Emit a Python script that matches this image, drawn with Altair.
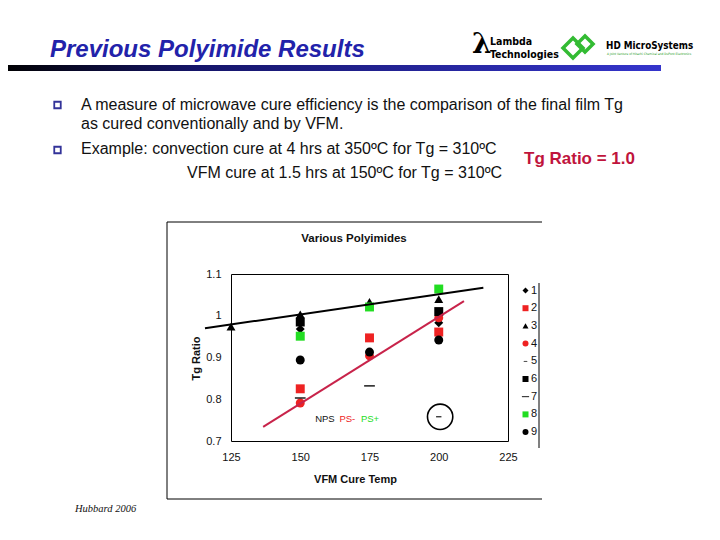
import altair as alt
import pandas as pd

# ---------------- data ----------------
SERIES = ["1", "2", "3", "4", "5", "6", "7", "8", "9"]
S1_T, S1_V = [150, 200], [0.968, 0.983]
S2_T, S2_V = [150, 175, 200], [0.825, 0.947, 0.961]
S3_T, S3_V = [125, 150, 175, 200], [0.974, 1.003, 1.033, 1.040]
S4_T, S4_V = [150, 175, 200], [0.791, 0.904, 0.995]
S5_T, S5_V = [200], [0.758]
S6_T, S6_V = [150, 200], [0.985, 1.010]
S7_T, S7_V = [150, 175], [0.803, 0.832]
S8_T, S8_V = [150, 175, 200], [0.951, 1.021, 1.064]
S9_T, S9_V = [150, 175, 200], [0.894, 0.913, 0.942]
ALL = [(S1_T, S1_V), (S2_T, S2_V), (S3_T, S3_V), (S4_T, S4_V), (S5_T, S5_V),
       (S6_T, S6_V), (S7_T, S7_V), (S8_T, S8_V), (S9_T, S9_V)]

BLACK_LINE_T, BLACK_LINE_V = [115.6, 216.1], [0.970, 1.067]
RED_LINE_T, RED_LINE_V = [136.6, 209.1], [0.734, 1.035]

CIRCLE_T, CIRCLE_V = [200.5], [0.758]
NOTE_TEXT = ["NPS", "PS-", "PS+"]
NOTE_T = [158.9, 167.0, 175.2]
NOTE_V = [0.753, 0.753, 0.753]
NOTE_COLOR = ["#111111", "#ee2222", "#22dd22"]

X_TICKS = [125, 150, 175, 200, 225]
Y_TICKS = [0.7, 0.8, 0.9, 1.0, 1.1]

TITLE = "Previous Polyimide Results"
BULLET_1 = "A measure of microwave cure efficiency is the comparison of the final film Tg"
BULLET_1B = "as cured conventionally and by VFM."
BULLET_2 = "Example: convection cure at 4 hrs at 350ºC for Tg = 310ºC"
BULLET_2B = "VFM cure at 1.5 hrs at 150ºC for Tg = 310ºC"
RATIO_TEXT = "Tg Ratio = 1.0"
CHART_TITLE = "Various Polyimides"
X_TITLE = "VFM Cure Temp"
Y_TITLE = "Tg Ratio"
CREDIT = "Hubbard 2006"
LOGO_1A, LOGO_1B = "Lambda", "Technologies"
LOGO_2 = "HD MicroSystems"
LOGO_2_SUB = "A Joint Venture of Hitachi Chemical and DuPont Electronics"

SHAPES = ["diamond", "square", "triangle-up", "circle",
          "M-0.6,-0.12H0.6V0.12H-0.6Z", "square",
          "M-1.2,-0.15H1.2V0.15H-1.2Z", "square", "circle"]
COLORS = ["#000000", "#ee2222", "#000000", "#ee2222", "#000000",
          "#000000", "#000000", "#22dd22", "#000000"]

SANS = "Liberation Sans, Arial, sans-serif"
NARROW = "Liberation Sans Narrow, DejaVu Sans Condensed, Arial Narrow, sans-serif"

rows = []
for s, (ts, vs) in zip(SERIES, ALL):
    for t, v in zip(ts, vs):
        rows.append({"series": s, "temp": t, "val": v})
pts = pd.DataFrame(rows)

xs = alt.Scale(domain=[125, 225], nice=False, zero=False)
ys = alt.Scale(domain=[0.7, 1.1], nice=False, zero=False)

legend = alt.Legend(title=None, orient="none", legendX=289, legendY=11,
                    symbolSize=36, labelFontSize=11, labelFont=SANS,
                    labelColor="#111111", rowPadding=5.7, labelOffset=0,
                    padding=0, symbolStrokeWidth=0)

points = alt.Chart(pts).mark_point(filled=True, size=80, opacity=1).encode(
    x=alt.X("temp:Q", scale=xs,
            axis=alt.Axis(values=X_TICKS, title=X_TITLE, ticks=False, domain=False,
                          grid=False, labelFlush=False, labelFontSize=11,
                          labelFont=SANS, labelColor="#111111", labelPadding=10,
                          titleFont=SANS, titleFontSize=11, titleFontWeight="bold",
                          titleColor="#111111", titleX=124, titleY=32,
                          titleBaseline="top", titleAlign="center")),
    y=alt.Y("val:Q", scale=ys,
            axis=alt.Axis(values=Y_TICKS, format="~g", title=Y_TITLE, ticks=False,
                          domain=False, grid=False, labelFlush=False,
                          labelFontSize=11, labelFont=SANS, labelColor="#111111",
                          labelPadding=10, titleFont=SANS, titleFontSize=11,
                          titleFontWeight="bold", titleColor="#111111",
                          titleX=-35, titleY=84, titleAngle=270,
                          titleBaseline="middle", titleAlign="center")),
    shape=alt.Shape("series:N", scale=alt.Scale(domain=SERIES, range=SHAPES), legend=legend),
    color=alt.Color("series:N", scale=alt.Scale(domain=SERIES, range=COLORS), legend=legend),
    order=alt.Order("series:N"),
)

black_line = alt.Chart(pd.DataFrame({"temp": BLACK_LINE_T, "val": BLACK_LINE_V})).mark_line(
    color="#000000", strokeWidth=2).encode(x=alt.X("temp:Q", scale=xs), y=alt.Y("val:Q", scale=ys))
red_line = alt.Chart(pd.DataFrame({"temp": RED_LINE_T, "val": RED_LINE_V})).mark_line(
    color="#c8234a", strokeWidth=2).encode(x=alt.X("temp:Q", scale=xs), y=alt.Y("val:Q", scale=ys))

circle = alt.Chart(pd.DataFrame({"temp": CIRCLE_T, "val": CIRCLE_V})).mark_point(
    shape="circle", filled=False, size=640, color="#000000", strokeWidth=1.6, opacity=1).encode(
    x=alt.X("temp:Q", scale=xs), y=alt.Y("val:Q", scale=ys))

notes = alt.Chart(pd.DataFrame({"t": NOTE_TEXT, "temp": NOTE_T, "val": NOTE_V, "c": NOTE_COLOR})).mark_text(
    font=SANS, fontSize=9.5, baseline="middle", align="center").encode(
    x=alt.X("temp:Q", scale=xs), y=alt.Y("val:Q", scale=ys), text="t:N",
    color=alt.Color("c:N", scale=None))

one = pd.DataFrame({"k": [0]})


def txt(s, x, y, size, color="#111111", font=SANS, weight="normal", style="normal",
        align="left"):
    return alt.Chart(one).mark_text(text=s, font=font, fontSize=size, color=color,
                                    fontWeight=weight, fontStyle=style, align=align,
                                    baseline="alphabetic").encode(
        x=alt.value(x), y=alt.value(y))


def hrule(x1, x2, y, color="#000000", w=1.0):
    return alt.Chart(one).mark_rule(color=color, strokeWidth=w).encode(
        x=alt.value(x1), x2=alt.value(x2), y=alt.value(y))


def vrule(x, y1, y2, color="#000000", w=1.0):
    return alt.Chart(one).mark_rule(color=color, strokeWidth=w).encode(
        x=alt.value(x), y=alt.value(y1), y2=alt.value(y2))


def sym(x, y, shape, size, color, sw, angle=0):
    kw = dict(shape=shape, filled=False, size=size, color=color, strokeWidth=sw, opacity=1)
    if angle:
        kw["angle"] = angle
    return alt.Chart(one).mark_point(**kw).encode(x=alt.value(x), y=alt.value(y))


grad = alt.LinearGradient(gradient="linear",
                          stops=[alt.GradientStop(color="#000000", offset=0),
                                 alt.GradientStop(color="#15156a", offset=0.3),
                                 alt.GradientStop(color="#3535cc", offset=1)],
                          x1=0, x2=1, y1=0, y2=0)
bar = alt.Chart(one).mark_rect(fill=grad).encode(
    x=alt.value(-231), x2=alt.value(430), y=alt.value(-209), y2=alt.value(-203))

layers = [
    bar,
    txt(TITLE, -181, -217, 24, color="#2222aa", weight="bold", style="italic"),
    txt("λ", 241, -221, 28, color="#000000", font="DejaVu Serif, serif", weight="bold"),
    txt(LOGO_1A, 259, -229, 10.5, color="#000000", font=NARROW, weight="bold"),
    txt(LOGO_1B, 259, -216, 10.5, color="#000000", font=NARROW, weight="bold"),
    sym(342, -226, "square", 200, "#33bb33", 3.5, 45),
    sym(354, -230, "square", 130, "#33bb33", 3.5, 45),
    txt(LOGO_2, 375, -225, 9.8, color="#000000", font=NARROW, weight="bold"),
    txt(LOGO_2_SUB, 376, -219, 3.2, color="#229922", font=NARROW),
    sym(-173.5, -169, "square", 42, "#333399", 1.8),
    sym(-173.5, -124, "square", 42, "#333399", 1.8),
    txt(BULLET_1, -150, -164, 16),
    txt(BULLET_1B, -150, -145, 16),
    txt(BULLET_2, -150, -120, 16),
    txt(BULLET_2B, -44, -96, 16),
    txt(RATIO_TEXT, 293, -110, 17, color="#c0143c", weight="bold"),
    txt(CREDIT, -156, 238, 10.5, color="#111111", font="Liberation Serif, Times New Roman, serif",
        style="italic"),
    hrule(-64, 311, -52), hrule(-64, 311, 225), vrule(-64, -52, 225),
    vrule(308, 9, 174),
    txt(CHART_TITLE, 123, -32, 11.5, weight="bold", align="center"),
    points, circle, black_line, red_line, notes,
]

chart = alt.layer(*layers).properties(
    width=277, height=167,
    padding={"left": 223, "top": 266, "right": 204, "bottom": 91},
    autosize="none",
    background="white",
).configure_view(stroke="#000000", strokeWidth=1)

chart.save("out.html", embed_options={"renderer": "svg", "actions": False})
